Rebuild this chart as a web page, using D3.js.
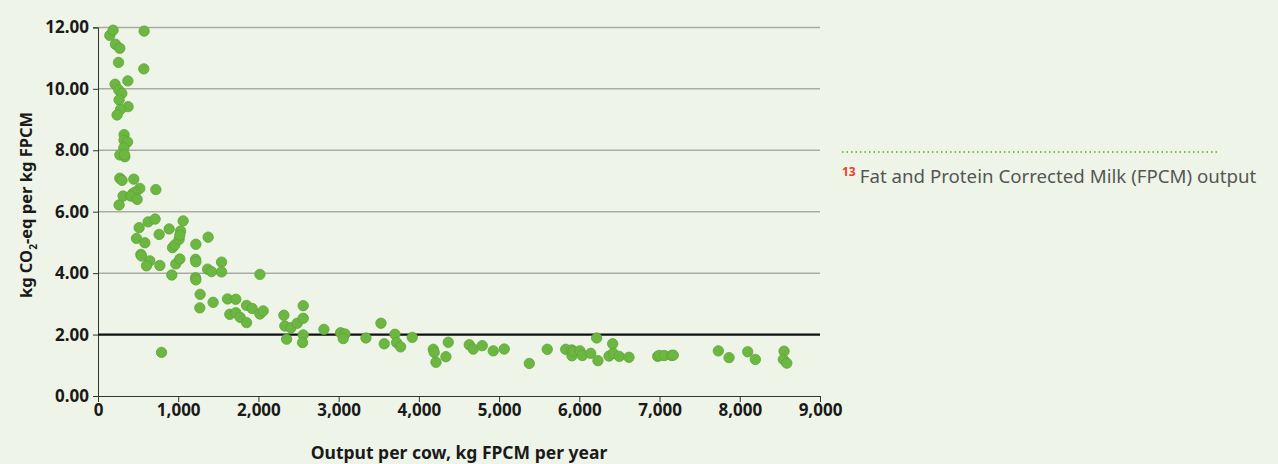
<!DOCTYPE html>
<html>
<head>
<meta charset="utf-8">
<script src="https://cdn.jsdelivr.net/npm/d3@7"></script>
<style>
	body { margin: 0; background: #eef5e8; }
	svg { display: block; }
	.tick text { font-family: "Noto Sans", "Open Sans", sans-serif; font-weight: bold; fill: #1a1a1a; }
</style>
</head>
<body>
<svg id="chart" width="1278" height="464"></svg>
<script>
// output per cow (kg FPCM / year) and emission intensity (kg CO2-eq / kg FPCM)
var outputKg = [
	147, 188, 575, 218, 272, 256, 571, 213, 372, 259, 297, 263, 375, 281, 238,
	325, 325, 368, 322, 272, 334, 330, 272, 300, 446, 521, 721, 468, 438, 313,
	409, 488, 263, 513, 480, 584, 625, 712, 762, 534, 542, 646, 605, 771, 792,
	887, 920, 929, 958, 970, 1011, 1029, 1020, 1020, 1061, 1220, 1216, 1220, 1216, 1220,
	1273, 1269, 1373, 1366, 1415, 1435, 1540, 1540, 1615, 1718, 1643, 1718, 1772, 1852, 1852,
	1922, 2018, 2018, 2059, 2317, 2329, 2351, 2404, 2483, 2558, 2558, 2558, 2550, 2816, 3024,
	3078, 3057, 3340, 3527, 3568, 3701, 3722, 3772, 3917, 4179, 4191, 4213, 4337, 4366, 4628,
	4678, 4790, 4927, 5064, 5376, 5600, 5830, 5905, 5908, 5925, 6008, 6037, 6142, 6216, 6232,
	6370, 6416, 6423, 6498, 6619, 6977, 6997, 7059, 7151, 7171, 7733, 7866, 8099, 8194, 8552,
	8543, 8586
]
var co2PerKg = [
	11.74, 11.91, 11.88, 11.45, 11.32, 10.86, 10.65, 10.15, 10.26, 9.96, 9.85, 9.64, 9.42, 9.33, 9.15,
	8.51, 8.33, 8.27, 8.08, 7.85, 7.79, 7.86, 7.09, 7.02, 7.06, 6.76, 6.72, 6.64, 6.60, 6.51,
	6.51, 6.40, 6.22, 5.48, 5.13, 4.99, 5.67, 5.76, 5.26, 4.61, 4.56, 4.40, 4.24, 4.25, 1.42,
	5.44, 3.94, 4.83, 4.92, 4.30, 5.10, 5.37, 5.24, 4.46, 5.70, 4.94, 4.45, 4.37, 3.85, 3.78,
	3.31, 2.87, 5.17, 4.13, 4.05, 3.05, 4.36, 4.04, 3.16, 3.15, 2.66, 2.71, 2.56, 2.39, 2.95,
	2.85, 3.96, 2.67, 2.77, 2.63, 2.28, 1.85, 2.22, 2.37, 2.94, 2.53, 1.99, 1.74, 2.17, 2.06,
	2.02, 1.87, 1.89, 2.37, 1.70, 2.01, 1.74, 1.60, 1.91, 1.52, 1.42, 1.10, 1.28, 1.75, 1.67,
	1.53, 1.64, 1.47, 1.53, 1.06, 1.52, 1.52, 1.50, 1.31, 1.46, 1.47, 1.32, 1.39, 1.89, 1.15,
	1.30, 1.70, 1.39, 1.29, 1.26, 1.29, 1.32, 1.32, 1.32, 1.33, 1.47, 1.25, 1.44, 1.19, 1.46,
	1.19, 1.07
]
var xTicks = [0, 1000, 2000, 3000, 4000, 5000, 6000, 7000, 8000, 9000]
var yTicks = [0, 2, 4, 6, 8, 10, 12]
var refLevel = 2
var footNum = "13"
var footText = "Fat and Protein Corrected Milk (FPCM) output"

var svg = d3.select("#chart")
var plotLeft = 98, plotRight = 820, plotTop = 27.4, plotBottom = 396

var x = d3.scaleLinear().domain([0, 9000]).range([plotLeft, plotRight])
var y = d3.scaleLinear().domain([0, 12]).range([plotBottom, plotTop])

// gridlines
svg.append("g").selectAll("line")
	.data(yTicks.filter(function(d) { return d > 0 && d != refLevel }))
	.join("line")
	.attr("x1", plotLeft).attr("x2", plotRight)
	.attr("y1", function(d) { return y(d) }).attr("y2", function(d) { return y(d) })
	.attr("stroke", "#a9aca6").attr("stroke-width", 1.5)

var xAxis = svg.append("g")
	.attr("transform", "translate(0," + plotBottom + ")")
	.call(d3.axisBottom(x).tickValues(xTicks).tickSizeOuter(0).tickSize(6).tickPadding(2)
		.tickFormat(d3.format(",")))
xAxis.selectAll("text").attr("font-size", 17)
xAxis.selectAll("line, path").attr("stroke", "#333")

var yAxis = svg.append("g")
	.attr("transform", "translate(" + plotLeft + ",0)")
	.call(d3.axisLeft(y).tickValues(yTicks).tickSizeOuter(0).tickSize(5).tickPadding(4)
		.tickFormat(d3.format(".2f")))
yAxis.selectAll("text").attr("font-size", 17)
yAxis.selectAll("line, path").attr("stroke", "#333")

// reference line at 2.00
svg.append("line")
	.attr("x1", plotLeft).attr("x2", plotRight)
	.attr("y1", y(refLevel)).attr("y2", y(refLevel))
	.attr("stroke", "#111").attr("stroke-width", 2.2)

svg.append("g").selectAll("circle")
	.data(d3.range(outputKg.length))
	.join("circle")
	.attr("cx", function(i) { return x(outputKg[i]) })
	.attr("cy", function(i) { return y(co2PerKg[i]) })
	.attr("r", 5.2)
	.attr("fill", "#6cb741")
	.attr("stroke", "#5ea437")
	.attr("stroke-width", 0.8)

// axis titles
var yt = svg.append("text")
	.attr("transform", "translate(32,205) rotate(-90)")
	.attr("text-anchor", "middle")
	.attr("font-family", "Noto Sans, sans-serif").attr("font-weight", "bold")
	.attr("font-size", 16.5).attr("fill", "#1a1a1a")
yt.append("tspan").text("kg CO")
yt.append("tspan").attr("font-size", 10).attr("dy", 5).text("2")
yt.append("tspan").attr("dy", -5).text("-eq per kg FPCM")

svg.append("text")
	.attr("x", (plotLeft + plotRight) / 2).attr("y", 459)
	.attr("text-anchor", "middle")
	.attr("font-family", "Noto Sans, sans-serif").attr("font-weight", "bold")
	.attr("font-size", 17.5).attr("fill", "#1a1a1a")
	.text("Output per cow, kg FPCM per year")

// footnote
svg.append("line")
	.attr("x1", 842).attr("x2", 1220).attr("y1", 152).attr("y2", 152)
	.attr("stroke", "#7cc242").attr("stroke-width", 2)
	.attr("stroke-dasharray", "1.5,3")

var ft = svg.append("text")
	.attr("x", 842).attr("y", 183)
	.attr("font-family", "Noto Sans, sans-serif").attr("font-size", 18.7)
ft.append("tspan").attr("fill", "#e5432d").attr("font-weight", "bold")
	.attr("font-size", 12).attr("dy", -7).text(footNum)
ft.append("tspan").attr("fill", "#555").attr("dy", 7).attr("dx", 4).text(footText)
</script>
</body>
</html>
